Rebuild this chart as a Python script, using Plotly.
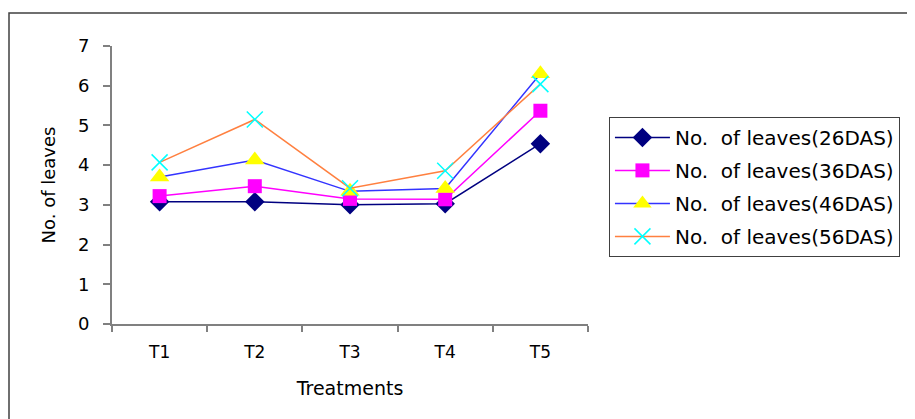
import plotly.graph_objects as go

categories = ["T1", "T2", "T3", "T4", "T5"]
das26 = [3.08, 3.08, 3.0, 3.03, 4.54]
das36 = [3.22, 3.47, 3.15, 3.14, 5.37]
das46 = [3.7, 4.13, 3.34, 3.41, 6.3]
das56 = [4.07, 5.15, 3.42, 3.86, 6.04]
series_names = ["No.\u00a0\u00a0of leaves(26DAS)", "No.\u00a0\u00a0of leaves(36DAS)",
                "No.\u00a0\u00a0of leaves(46DAS)", "No.\u00a0\u00a0of leaves(56DAS)"]

styles = [
    dict(line=dict(color="#000080", width=1.5), marker=dict(symbol="diamond", size=15, color="#000080")),
    dict(line=dict(color="#FF00FF", width=1.5), marker=dict(symbol="square", size=14, color="#FF00FF")),
    dict(line=dict(color="#3333FF", width=1.5), marker=dict(symbol="triangle-up", size=17, color="#FFFF00")),
    dict(line=dict(color="#FF8040", width=1.5), marker=dict(symbol="x-thin-open", size=16, color="#00FFFF",
                                                            line=dict(color="#00FFFF", width=1.5))),
]

fig = go.Figure()
for i, (name, vals, st) in enumerate(zip(series_names, [das26, das36, das46, das56], styles)):
    fig.add_trace(go.Scatter(x=categories, y=vals, mode="lines+markers", name=name,
                             legendgroup=f"g{i}",
                             line=st["line"], marker=st["marker"]))

font_family = "DejaVu Sans, Liberation Sans, sans-serif"
fig.update_layout(
    width=915, height=419,
    margin=dict(l=104, r=335, t=38, b=103),
    paper_bgcolor="white", plot_bgcolor="white",
    font=dict(family=font_family, size=18, color="black"),
    showlegend=True,
    legend=dict(x=1.044, y=0.745, xanchor="left", yanchor="top",
                bordercolor="#404040", borderwidth=1,
                font=dict(size=20, family=font_family),
                traceorder="grouped", tracegroupgap=4, itemwidth=55),
    xaxis=dict(type="category", range=[-0.5, 4.5], showline=True, linecolor="#808080",
               linewidth=2, ticks="outside", tickson="boundaries", ticklen=6,
               tickcolor="#808080", tickwidth=1.5, showgrid=False, zeroline=False,
               tickfont=dict(size=17), ticklabelstandoff=12,
               title=dict(text="Treatments", font=dict(size=19), standoff=20)),
    yaxis=dict(range=[0, 7], dtick=1, showline=True, linecolor="#808080", linewidth=2,
               ticks="outside", ticklen=7, tickcolor="#808080", tickwidth=1.5,
               showgrid=False, zeroline=False, tickfont=dict(size=18), ticklabelstandoff=10,
               title=dict(text="No. of leaves", font=dict(size=18), standoff=18)),
)

fig.add_shape(type="rect", xref="paper", yref="paper",
              x0=(1 - 104) / 476, x1=2.0, y0=-1.0, y1=(278 + 38 - 5) / 278,
              line=dict(color="#404040", width=1.5), layer="below")

fig.write_html("out.html")
